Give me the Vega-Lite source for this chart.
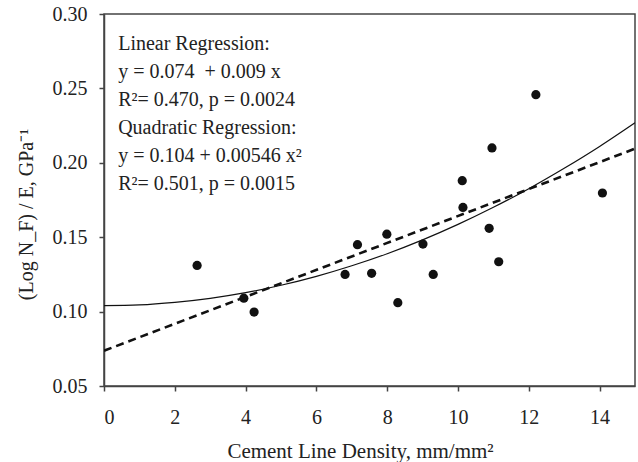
{
  "$schema": "https://vega.github.io/schema/vega-lite/v6.json",
  "width": 531,
  "height": 372,
  "autosize": {"type": "none"},
  "padding": {"left": 104, "top": 14, "right": 3, "bottom": 76},
  "background": "white",
  "config": {
    "view": {"stroke": "#444", "strokeWidth": 1.5},
    "axis": {
      "grid": false,
      "domainColor": "#444",
      "domainWidth": 1.5,
      "tickColor": "#444",
      "tickWidth": 1.5,
      "tickSize": 5,
      "labelFont": "Liberation Serif",
      "labelFontSize": 20,
      "labelColor": "#222",
      "titleFont": "Liberation Serif",
      "titleFontSize": 20,
      "titleFontWeight": "normal",
      "titleColor": "#222"
    }
  },
  "datasets": {
    "points": [
      {"density": 2.63, "value": 0.131},
      {"density": 3.95, "value": 0.109},
      {"density": 4.24, "value": 0.0997},
      {"density": 6.81, "value": 0.125},
      {"density": 7.16, "value": 0.145},
      {"density": 7.56, "value": 0.1257},
      {"density": 7.99, "value": 0.152},
      {"density": 8.30, "value": 0.106},
      {"density": 9.01, "value": 0.1454},
      {"density": 9.30, "value": 0.125},
      {"density": 10.12, "value": 0.188},
      {"density": 10.14, "value": 0.170},
      {"density": 10.88, "value": 0.156},
      {"density": 10.96, "value": 0.210},
      {"density": 11.15, "value": 0.1335},
      {"density": 12.20, "value": 0.2458},
      {"density": 14.08, "value": 0.1797}
    ],
    "linear": [
      {"density": 0, "value": 0.0737},
      {"density": 15, "value": 0.2095}
    ],
    "quadratic": [
      {"density": 0, "value": 0.104},
      {"density": 1, "value": 0.1045},
      {"density": 2, "value": 0.1062},
      {"density": 3, "value": 0.1089},
      {"density": 4, "value": 0.1127},
      {"density": 5, "value": 0.1177},
      {"density": 6, "value": 0.1237},
      {"density": 7, "value": 0.1308},
      {"density": 8, "value": 0.1389},
      {"density": 9, "value": 0.1482},
      {"density": 10, "value": 0.1586},
      {"density": 11, "value": 0.1701},
      {"density": 12, "value": 0.1826},
      {"density": 13, "value": 0.1963},
      {"density": 14, "value": 0.2110},
      {"density": 15, "value": 0.2269}
    ],
    "note": [
      {"label": "annotation"}
    ]
  },
  "layer": [
    {
      "data": {"name": "quadratic"},
      "mark": {"type": "line", "color": "#111", "strokeWidth": 1.2, "clip": true, "interpolate": "monotone"},
      "encoding": {
        "x": {"field": "density", "type": "quantitative", "scale": {"domain": [0, 15], "nice": false},
          "axis": {"values": [0, 2, 4, 6, 8, 10, 12, 14], "title": "Cement Line Density, mm/mm²", "labelPadding": 16, "titlePadding": 13, "titleFontSize": 21, "titleX": 256}},
        "y": {"field": "value", "type": "quantitative", "scale": {"domain": [0.05, 0.30], "nice": false, "zero": false},
          "axis": {"values": [0.05, 0.10, 0.15, 0.20, 0.25, 0.30], "format": ".2f", "title": "(Log N_F) / E, GPa⁻¹", "labelPadding": 12, "titlePadding": 16, "titleY": 200}}
      }
    },
    {
      "data": {"name": "linear"},
      "mark": {"type": "line", "color": "#111", "strokeWidth": 2.6, "strokeDash": [8, 5], "clip": true},
      "encoding": {
        "x": {"field": "density", "type": "quantitative"},
        "y": {"field": "value", "type": "quantitative"}
      }
    },
    {
      "data": {"name": "points"},
      "mark": {"type": "point", "filled": true, "shape": "circle", "size": 85, "color": "#111", "opacity": 1},
      "encoding": {
        "x": {"field": "density", "type": "quantitative"},
        "y": {"field": "value", "type": "quantitative"}
      }
    },
    {
      "data": {"name": "note"},
      "mark": {
        "type": "text",
        "font": "Liberation Serif",
        "fontSize": 20,
        "color": "#222",
        "align": "left",
        "baseline": "alphabetic",
        "lineHeight": 28
      },
      "encoding": {
        "x": {"datum": 0.4},
        "y": {"datum": 0.2758},
        "text": {"value": ["Linear Regression:", "y = 0.074\u00a0 + 0.009 x", "R²= 0.470, p = 0.0024", "Quadratic Regression:", "y = 0.104 + 0.00546 x²", "R²= 0.501, p = 0.0015"]}
      }
    }
  ]
}
